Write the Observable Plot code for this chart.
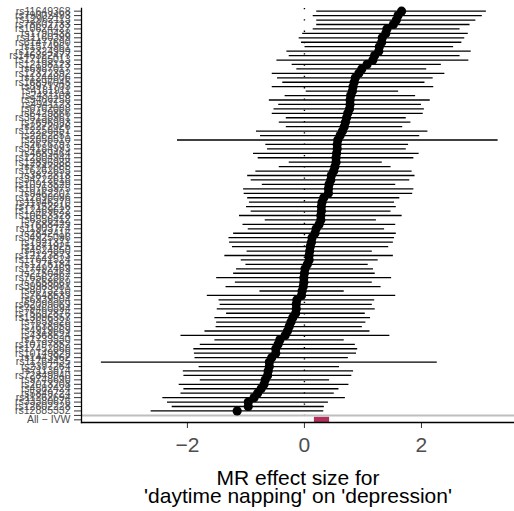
<!DOCTYPE html>
<html><head><meta charset="utf-8">
<script src="https://cdn.jsdelivr.net/npm/d3@7"></script>
<script src="https://cdn.jsdelivr.net/npm/@observablehq/plot@0.6"></script>
<style>body{margin:0;background:#fff}</style>
</head><body><div id="chart"></div>
<script>
const snps = [
"rs11649368","rs79002493","rs12962113","rs78602733","rs10624427","rs1790438","rs11160399","rs61477690","rs1574961","rs12324999",
"rs146322477","rs17185013","rs12198123","rs6987017","rs12322392","rs1244806","rs16896045","rs8971703","rs4181911","rs2431108",
"rs9466258","rs4941123","rs6762088","rs6429866","rs35138961","rs7696993","rs2272026","rs12258451","rs2262851","rs2858510",
"rs2676797","rs34184993","rs4689464","rs12804944","rs12896988","rs7747885","rs16262655","rs3872818","rs34722618","rs10913529",
"rs10763975","rs9462201","rs12898096","rs11946270","rs77152216","rs12469622","rs10663528","rs6556412","rs7688429","rs11903774",
"rs2842416","rs34925096","rs1921371","rs1371925","rs4524850","rs12123873","rs17641524","rs1275184","rs17492469","rs2150462",
"rs76562867","rs7658669","rs39983081","rs8073210","rs7648539","rs6939504","rs62099069","rs79460894","rs75692876","rs13096357",
"rs7659328","rs7638959","rs4919669","rs4368524","rs1733530","rs10797852","rs17452868","rs10149829","rs1443962","rs11764435",
"rs2397264","rs7113874","rs72849940","rs9748690","rs2013208","rs4582424","rs5849724","rs11262694","rs33380676","rs12602228",
"rs12885332"
];
const beta = [
1.66,1.60,1.57,1.52,1.41,1.39,1.33,1.32,1.28,1.27,
1.20,1.17,1.07,0.98,0.93,0.87,0.85,0.83,0.82,0.79,
0.78,0.78,0.77,0.74,0.72,0.70,0.68,0.65,0.61,0.57,
0.56,0.56,0.55,0.54,0.54,0.52,0.50,0.46,0.45,0.42,
0.41,0.41,0.33,0.30,0.29,0.29,0.28,0.28,0.25,0.20,
0.18,0.13,0.12,0.10,0.09,0.08,0.08,0.05,0.01,0.00,
-0.01,-0.01,-0.02,-0.04,-0.05,-0.13,-0.14,-0.14,-0.15,-0.20,
-0.23,-0.26,-0.29,-0.33,-0.42,-0.45,-0.49,-0.49,-0.56,-0.60,
-0.60,-0.62,-0.63,-0.67,-0.69,-0.74,-0.80,-0.86,-0.96,-0.96,
-1.15
];
const lower = [
0.21,0.15,0.21,0.21,0.15,-0.03,-0.09,-0.05,0.01,-0.30,
-0.26,-0.47,-0.21,-0.13,-0.55,-0.46,-0.37,-0.55,0.03,-0.33,
-0.60,-0.44,-0.52,-0.55,-0.31,-0.43,-0.31,-0.82,-0.75,-2.17,
-0.66,-0.63,-0.87,-0.79,-0.26,-0.43,-0.83,-0.97,-0.91,-0.72,
-1.04,-1.03,-0.97,-0.94,-0.99,-0.91,-1.11,-0.67,-1.05,-0.96,
-1.21,-1.29,-1.28,-1.23,-0.98,-1.36,-1.08,-1.00,-1.16,-1.21,
-1.50,-1.18,-1.34,-0.76,-1.66,-1.46,-1.44,-1.49,-1.33,-1.53,
-1.50,-1.51,-1.70,-2.11,-1.53,-1.78,-1.89,-1.88,-1.87,-3.47,
-1.80,-2.07,-2.06,-1.78,-2.14,-2.06,-2.11,-2.42,-2.34,-2.26,
-2.62
];
const upper = [
3.11,3.04,2.93,2.83,2.66,2.80,2.74,2.69,2.55,2.85,
2.66,2.81,2.34,2.09,2.40,2.20,2.06,2.21,1.61,1.90,
2.15,2.00,2.05,2.03,1.74,1.82,1.68,2.11,1.97,3.31,
1.78,1.74,1.96,1.87,1.33,1.48,1.84,1.89,1.80,1.56,
1.87,1.85,1.63,1.54,1.57,1.48,1.67,1.23,1.56,1.37,
1.57,1.54,1.52,1.44,1.16,1.52,1.26,1.09,1.18,1.21,
1.49,1.16,1.31,0.68,1.56,1.20,1.16,1.21,1.04,1.13,
1.05,0.99,1.12,1.46,0.68,0.87,0.91,0.89,0.75,2.27,
0.60,0.84,0.81,0.43,0.76,0.59,0.51,0.70,0.41,0.34,
0.33
];
const ivwLabel = "All \u2212 IVW";
const ivwBeta = [0.30];
const ivwLower = [0.17];
const ivwUpper = [0.43];
const xTicks = [-2, 0, 2];
const xTitle = "MR effect size for\n'daytime napping' on 'depression'";

const rows = snps.map((s, i) => ({snp: s, b: beta[i], lo: lower[i], hi: upper[i]}));
const ivw = ivwBeta.map((b, i) => ({snp: ivwLabel, b, lo: ivwLower[i], hi: ivwUpper[i]}));
const yDomain = [...snps, "", ivwLabel];

const chart = Plot.plot({
  width: 514,
  height: 511,
  marginTop: 8,
  marginBottom: 89,
  marginLeft: 81,
  marginRight: 0,
  style: {fontFamily: "'Liberation Sans', Arial, Helvetica, sans-serif", background: "#fff"},
  x: {domain: [-3.81, 3.59]},
  y: {type: "point", domain: yDomain, padding: 0.6},
  marks: [
    Plot.ruleX([0], {stroke: "#000", strokeWidth: 1.4, strokeDasharray: "1.3,10"}),
    Plot.ruleY([""], {stroke: "#bebebe", strokeWidth: 2}),
    Plot.ruleY(rows, {y: "snp", x1: "lo", x2: "hi", stroke: "#000", strokeWidth: 1.3}),
    Plot.dot(rows, {y: "snp", x: "b", r: 4.6, fill: "#000", stroke: null}),
    Plot.ruleY(ivw, {y: "snp", x1: "lo", x2: "hi", stroke: "#b2305e", strokeWidth: 6}),
    Plot.axisY({tickSize: 7, tickPadding: 4, fontSize: 10.5, color: "#4d4d4d", stroke: "#333", label: null}),
    Plot.axisX({ticks: xTicks, tickSize: 6, tickPadding: 9, fontSize: 21, color: "#4d4d4d", stroke: "#333", label: null}),
    Plot.frame({anchor: "left", stroke: "#000", strokeWidth: 1.3}),
    Plot.frame({anchor: "bottom", stroke: "#000", strokeWidth: 1.3}),
    Plot.text([xTitle], {frameAnchor: "bottom", dy: 49, lineAnchor: "top", lineHeight: 0.88, fontSize: 21, fill: "#000", text: d => d})
  ]
});
document.getElementById("chart").appendChild(chart);
</script>
</body></html>
